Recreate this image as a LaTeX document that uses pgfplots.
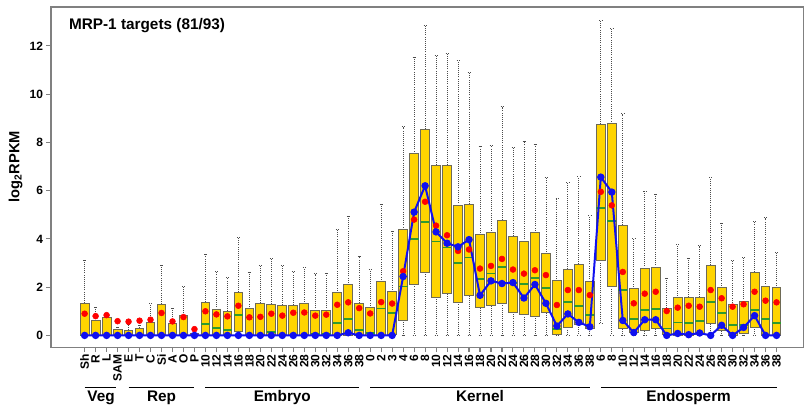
\documentclass[border=0pt]{standalone}
\usepackage{pgfplots}
\pgfplotsset{compat=1.18}
\usepgfplotslibrary{statistics}
\usepackage{pgfplotstable}
\usepackage{fontspec}
\setmainfont{Liberation Sans}
\definecolor{boxgold}{HTML}{FFD400}
\definecolor{boxedge}{HTML}{6E6A55}
\definecolor{medgreen}{HTML}{2E9A2E}
\definecolor{framegray}{HTML}{808080}
\definecolor{linblue}{HTML}{1010F0}

\pgfplotstableread{
x lw q1 med q3 uw mean blue
0 0 0 0 1.34 3.11 0.90 0
1 0 0 0 0.62 1.18 0.80 0
2 0 0 0 0.76 0.78 0.84 0
3 0 0 0 0.25 0.35 0.59 0
4 0 0 0 0.22 0.45 0.57 0
5 0 0 0 0.30 0.42 0.61 0
6 0 0 0 0.54 1.31 0.65 0
7 0 0 0 1.30 2.91 0.93 0
8 0 0 0 0.49 1.12 0.58 0
9 0 0 0 0.83 2.05 0.76 0
10 0 0 0 0.10 0.12 0.26 0
11 0 0 0.46 1.38 3.36 1.00 0
12 0 0 0.32 1.08 2.64 0.87 0
13 0 0 0.22 1.00 2.40 0.79 0
14 0 0.17 0.84 1.79 4.06 1.23 0
15 0 0 0 1.11 2.62 0.75 0
16 0 0 0 1.34 2.89 0.77 0
17 0 0 0.14 1.29 3.21 0.90 0
18 0 0 0 1.26 2.92 0.82 0
19 0 0 0 1.25 2.66 0.94 0
20 0 0 0 1.31 2.81 0.95 0
21 0 0 0.05 1.04 2.56 0.82 0
22 0 0 0.05 1.04 2.59 0.86 0
23 0 0 0.51 1.77 4.39 1.27 0
24 0 0 0.69 2.10 4.94 1.37 0.11
25 0 0 0.21 1.34 3.29 1.13 0
26 0 0 0.10 1.15 2.74 0.91 0
27 0 0 1.11 2.23 5.45 1.38 0
28 0 0.05 0.94 1.81 4.31 1.32 0
29 0 0.64 2.03 4.39 8.65 2.66 2.44
30 0 2.12 4.00 7.54 11.54 4.80 5.11
31 0 2.62 4.69 8.55 12.83 5.54 6.20
32 0 1.59 3.89 7.05 11.60 4.55 4.29
33 0 1.72 3.64 7.05 11.70 4.15 3.82
34 0 1.37 2.99 5.39 11.39 3.50 3.67
35 0 1.65 3.23 5.44 10.91 3.56 3.97
36 0 1.15 2.34 4.17 7.84 2.77 1.66
37 0 1.23 2.57 4.26 7.86 2.88 2.26
38 0 1.33 2.85 4.78 9.48 3.17 2.15
39 0 0.97 2.17 4.11 7.79 2.73 2.19
40 0 0.87 2.12 3.90 8.06 2.56 1.55
41 0 0.80 2.38 4.26 7.93 2.70 2.11
42 0 0.94 1.95 3.39 6.53 2.50 1.33
43 0 0.03 0.28 2.27 5.69 1.26 0.39
44 0 0.33 1.38 2.75 6.33 1.88 0.89
45 0 0.44 1.22 2.96 6.57 1.88 0.54
46 0 0.29 0.84 2.24 4.98 1.67 0.36
47 0.49 3.11 5.27 8.75 13.05 5.95 6.56
48 0 2.03 4.75 8.78 12.74 5.39 5.94
49 0 0.28 1.88 4.57 9.19 2.63 0.62
50 0 0.11 0.69 1.94 4.03 1.33 0.12
51 0 0.19 1.04 2.78 5.97 1.73 0.65
52 0 0.28 1.08 2.82 5.84 1.81 0.65
53 0 0.05 0.29 1.13 2.38 1.01 0
54 0 0 0.53 1.56 3.76 1.15 0.08
55 0 0 0.50 1.59 3.20 1.23 0.03
56 0 0.05 0.61 1.59 3.72 1.19 0.10
57 0 0.48 1.37 2.91 6.53 1.88 0
58 0 0.20 0.94 1.98 4.65 1.54 0.42
59 0 0 0.44 1.27 3.11 1.19 0
60 0 0.10 0.42 1.41 3.25 1.29 0.33
61 0 0.35 1.04 2.62 4.72 1.81 0.82
62 0 0 0.68 2.03 4.87 1.44 0
63 0 0 0.50 1.98 3.45 1.37 0
}\data

\begin{document}
\begin{tikzpicture}
\begin{axis}[
  scale only axis, width=564pt, height=255pt,
  xmin=-3.06, xmax=65.44, ymin=-0.486, ymax=13.61,
  clip=false,
  axis line style={framegray, line width=0.8pt},
  every tick/.style={framegray, line width=0.8pt},
  tick align=outside,
  major tick length=3.75pt,
  xtick pos=bottom, ytick pos=left,
  ytick={0,2,4,6,8,10,12},
  xtick={0,...,63},
  xticklabels={Sh,R,L,SAM,E,T,C,Si,A,O,P,10,12,14,16,18,20,22,24,26,28,30,32,34,36,38,0,2,3,4,6,8,10,12,14,16,18,20,22,24,26,28,30,32,34,36,38,6,8,10,12,14,16,18,20,22,24,26,28,30,32,34,36,38},
  /pgf/number format/assume math mode=true,
  tick label style={font=\bfseries\fontsize{9}{10}\selectfont, black},
  xticklabel style={rotate=90, anchor=east, inner sep=1.5pt},
  yticklabel style={inner sep=2pt},
  every axis y label/.style={at={(axis description cs:-0.047,0.53)}, rotate=90, anchor=center},
  ylabel={\bfseries\fontsize{11}{12}\selectfont log\textsubscript{2}RPKM},
  boxplot/draw direction=y,
  boxplot/box extend=0.8,
  boxplot/whisker extend=0.25,
  boxplot/every box/.style={fill=boxgold, draw=boxedge, line width=0.7pt},
  boxplot/every whisker/.style={draw=black!70, densely dotted, line width=0.6pt},
  boxplot/every median/.style={draw=medgreen, line width=1.3pt},
]
\pgfplotsinvokeforeach{0,...,63}{
  \pgfplotstablegetelem{#1}{lw}\of\data \let\vlw\pgfplotsretval
  \pgfplotstablegetelem{#1}{q1}\of\data \let\vqa\pgfplotsretval
  \pgfplotstablegetelem{#1}{med}\of\data \let\vmed\pgfplotsretval
  \pgfplotstablegetelem{#1}{q3}\of\data \let\vqb\pgfplotsretval
  \pgfplotstablegetelem{#1}{uw}\of\data \let\vuw\pgfplotsretval
  \edef\tmpplot{\noexpand\addplot[draw=boxedge, boxplot prepared={draw position=#1, lower whisker=\vlw, lower quartile=\vqa, median=\vmed, upper quartile=\vqb, upper whisker=\vuw}] coordinates {};}
  \tmpplot
}
\addplot[only marks, mark=*, mark size=2.2pt, red] table[x=x,y=mean]{\data};
\addplot[linblue, line width=1.5pt, mark=*, mark size=2.0pt, mark options={fill=linblue}] table[x=x,y=blue]{\data};

\node[anchor=base west, font=\bfseries\fontsize{11.5}{13}\selectfont] at (axis description cs:0.0177,0.935) {MRP-1 targets (81/93)};

\draw[line width=0.8pt] (axis cs:0,-2.15) -- (axis cs:2.9,-2.15);
\draw[line width=0.8pt] (axis cs:4,-2.15) -- (axis cs:10,-2.15);
\draw[line width=0.8pt] (axis cs:11,-2.15) -- (axis cs:25,-2.15);
\draw[line width=0.8pt] (axis cs:26,-2.15) -- (axis cs:46,-2.15);
\draw[line width=0.8pt] (axis cs:47,-2.15) -- (axis cs:63,-2.15);
\node[anchor=base, font=\bfseries\fontsize{11.5}{13}\selectfont] at (axis cs:1.5,-2.72) {Veg};
\node[anchor=base, font=\bfseries\fontsize{11.5}{13}\selectfont] at (axis cs:7,-2.72) {Rep};
\node[anchor=base, font=\bfseries\fontsize{11.5}{13}\selectfont] at (axis cs:18,-2.72) {Embryo};
\node[anchor=base, font=\bfseries\fontsize{11.5}{13}\selectfont] at (axis cs:36,-2.72) {Kernel};
\node[anchor=base, font=\bfseries\fontsize{11.5}{13}\selectfont] at (axis cs:55,-2.72) {Endosperm};
\end{axis}
\pgfresetboundingbox
\path ([shift={(-38.25pt,-45.75pt)}]current axis.south west) rectangle ([shift={(0.5pt,5.25pt)}]current axis.north east);
\end{tikzpicture}
\end{document}
